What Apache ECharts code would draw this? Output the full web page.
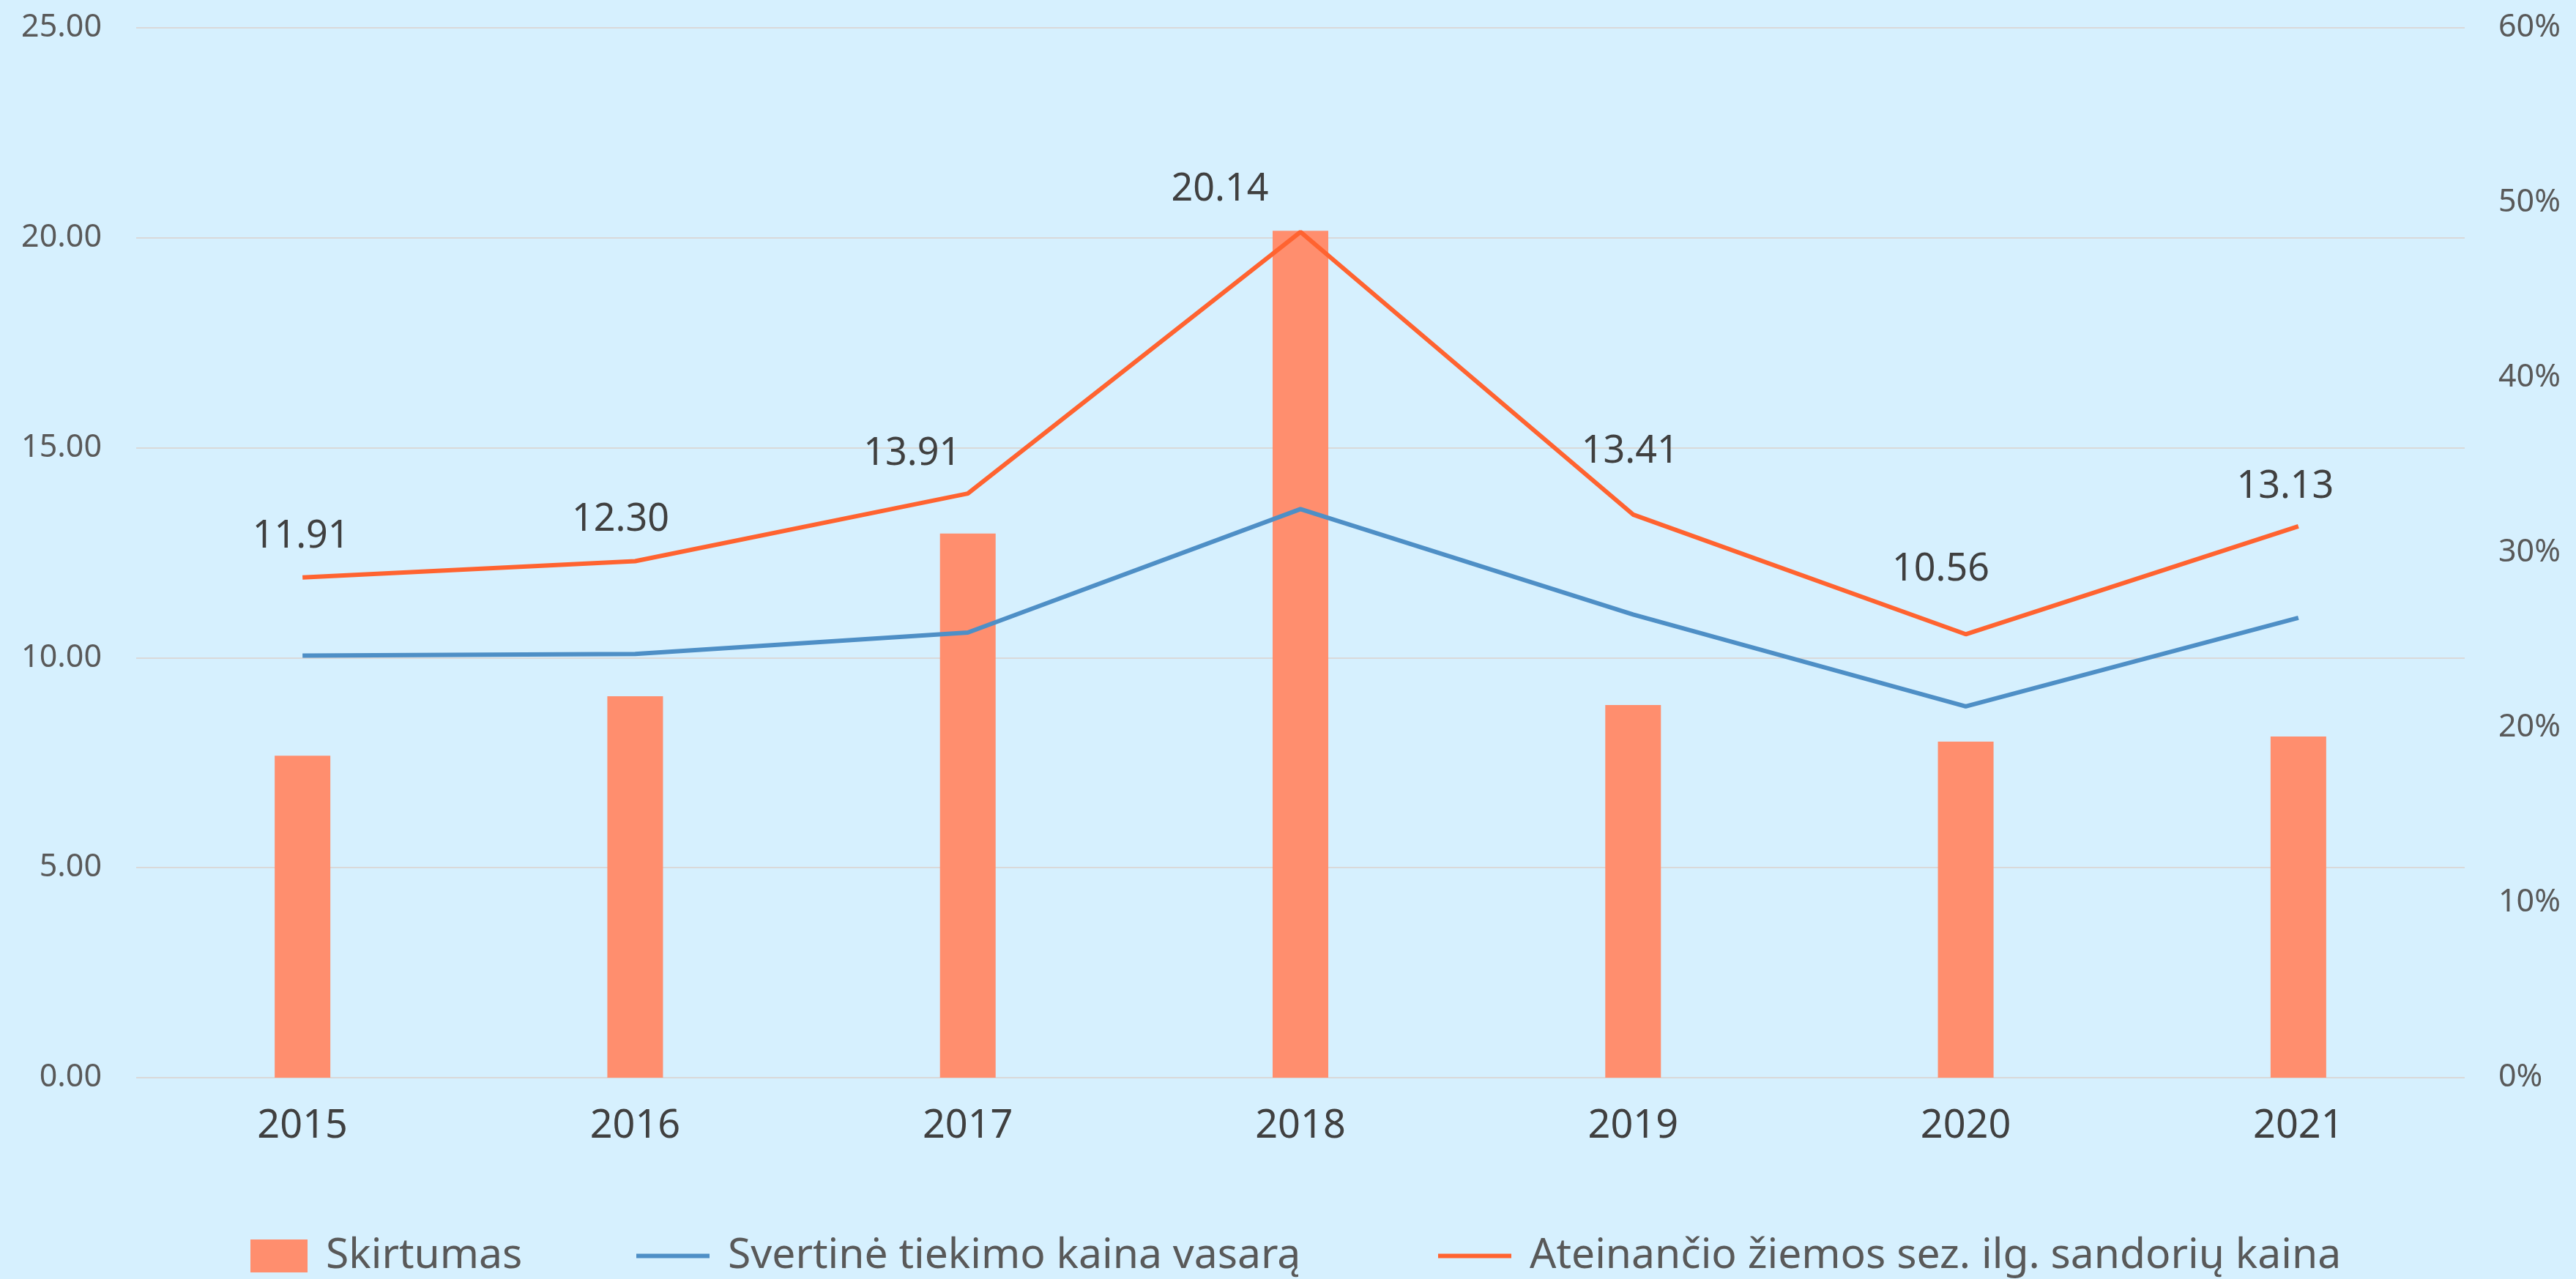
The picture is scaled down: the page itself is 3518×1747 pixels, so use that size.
<!DOCTYPE html>
<html>
<head>
<meta charset="utf-8">
<script src="https://cdn.jsdelivr.net/npm/echarts@6/dist/echarts.min.js"></script>
<style>
html, body { margin: 0; padding: 0; background: #d6f0fe; }
#chart { width: 3518px; height: 1747px; }
</style>
</head>
<body>
<div id="chart"></div>
<script>
// duomenys
const years = ['2015', '2016', '2017', '2018', '2019', '2020', '2021']
const skirtumas = [18.4, 21.8, 31.1, 48.4, 21.3, 19.2, 19.5] // %
const vasara = [10.05, 10.09, 10.60, 13.54, 11.03, 8.84, 10.95]
const ziema = [11.91, 12.30, 13.91, 20.14, 13.41, 10.56, 13.13]

// label nudges for the winter line values (px)
const labelShift = [[-2, -30], [-20, -30], [-76, -28], [-110, -32], [-4, -60], [-34, -62], [-18, -28]]

const font = 'Noto Sans'
const legendText = { color: '#595959', fontSize: 57, fontFamily: font, padding: [0, 0, 0, 20] }
const mkLegend = (name, left, icon, w, h) => ({
    data: [name],
    left: left,
    top: 1682,
    icon: icon,
    itemWidth: w,
    itemHeight: h,
    textStyle: legendText
})

const chart = echarts.init(document.getElementById('chart'))
chart.setOption({
    animation: false,
    backgroundColor: '#d6f0fe',
    textStyle: { fontFamily: font },
    grid: { left: 186, right: 152, top: 38, bottom: 275 },
    legend: [
        mkLegend('Skirtumas', 337, 'rect', 78, 45),
        mkLegend('Svertinė tiekimo kaina vasarą', 864, 'rect', 100, 6),
        mkLegend('Ateinančio žiemos sez. ilg. sandorių kaina', 1959, 'rect', 100, 6)
    ],
    xAxis: {
        type: 'category',
        data: years,
        axisLine: { show: false },
        axisTick: { show: false },
        axisLabel: { color: '#404040', fontSize: 54, margin: 40, fontFamily: font }
    },
    yAxis: [
        {
            type: 'value',
            min: 0,
            max: 25,
            interval: 5,
            axisLine: { show: false },
            axisTick: { show: false },
            splitLine: { lineStyle: { color: '#d9d9d9', width: 2 } },
            axisLabel: {
                color: '#595959', fontSize: 43, margin: 47, fontFamily: font,
                formatter: v => v.toFixed(2)
            }
        },
        {
            type: 'value',
            min: 0,
            max: 60,
            interval: 10,
            axisLine: { show: false },
            axisTick: { show: false },
            splitLine: { show: false },
            axisLabel: {
                color: '#595959', fontSize: 43, margin: 46, fontFamily: font,
                formatter: v => v + '%'
            }
        }
    ],
    series: [
        {
            name: 'Skirtumas',
            type: 'bar',
            yAxisIndex: 1,
            data: skirtumas,
            barWidth: 76,
            itemStyle: { color: '#ff8e6e' }
        },
        {
            name: 'Svertinė tiekimo kaina vasarą',
            type: 'line',
            data: vasara,
            symbol: 'none',
            lineStyle: { color: '#4e8fc6', width: 6 },
            itemStyle: { color: '#4e8fc6' }
        },
        {
            name: 'Ateinančio žiemos sez. ilg. sandorių kaina',
            type: 'line',
            data: ziema.map((v, i) => ({
                value: v,
                label: { offset: labelShift[i] }
            })),
            symbol: 'circle',
            symbolSize: 0.1,
            showSymbol: true,
            lineStyle: { color: '#ff6330', width: 6 },
            itemStyle: { color: '#ff6330' },
            label: {
                show: true,
                position: 'top',
                distance: 0,
                color: '#404040',
                fontSize: 52,
                fontFamily: font,
                formatter: p => p.value.toFixed(2)
            }
        }
    ]
})
</script>
</body>
</html>
